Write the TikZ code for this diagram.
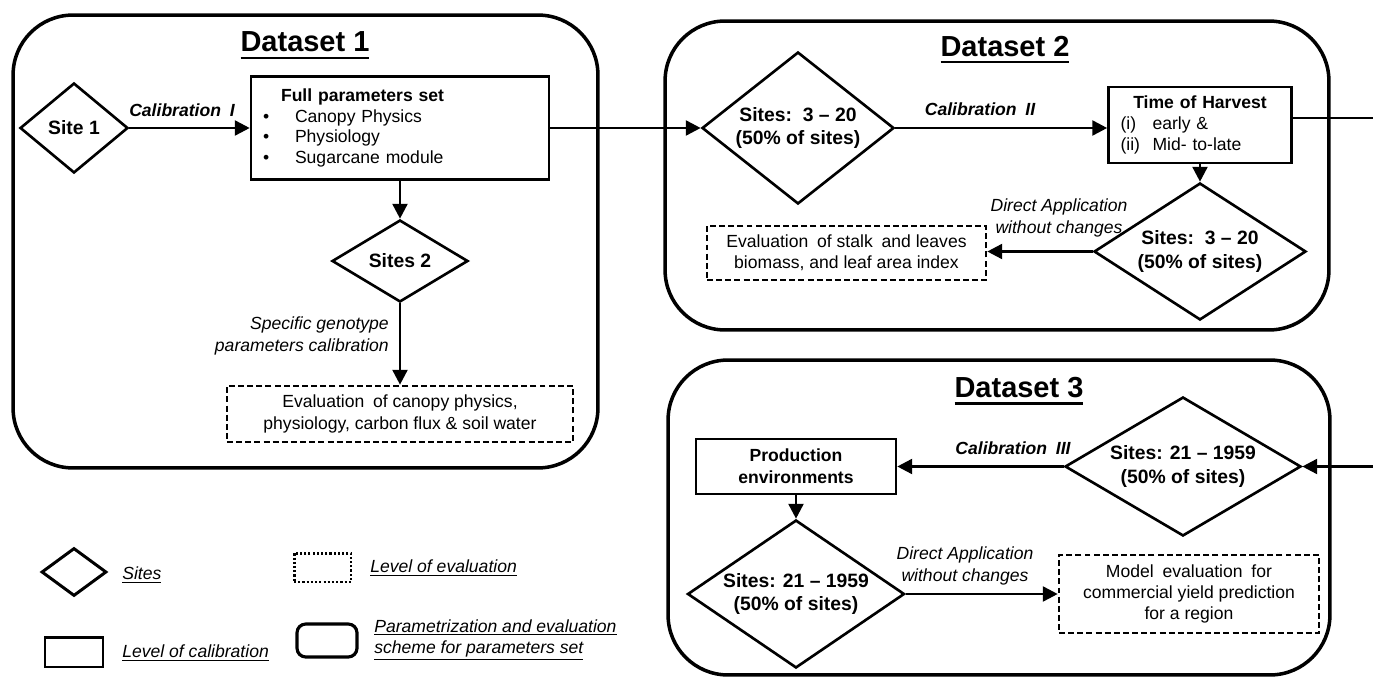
\documentclass[tikz,border=0pt]{standalone}
\usepackage{fontspec}
\setmainfont{Liberation Sans}
\usetikzlibrary{shapes.geometric,arrows.meta}

\newcommand{\dsul}[1]{\setbox0\hbox{#1}\rlap{\rule[-4pt]{\wd0}{1.3pt}}\box0}

\begin{document}
\begin{tikzpicture}[x=0.02cm, y=-0.02cm,
  dsbox/.style={draw, line width=2pt, rounded corners=1.2cm, inner sep=0pt},
  dstitle/.style={font=\fontsize{16.5}{20}\selectfont\bfseries},
  sitesd/.style={draw, diamond, line width=1.5pt, inner sep=0pt, align=center, font=\fontsize{11}{13.6}\selectfont\bfseries},
  calbox/.style={draw, line width=1.5pt, inner sep=0pt},
  evalbox/.style={draw, dash pattern=on 3.4pt off 1.8pt, line width=1.5pt, inner sep=0pt, align=center, font=\fontsize{10}{12.2}\selectfont},
  arr/.style={-{Triangle[length=8.5pt,width=8.5pt]}, line width=1.5pt},
  callbl/.style={font=\fontsize{10}{12}\selectfont\bfseries\itshape},
  applbl/.style={font=\fontsize{10}{12.2}\selectfont\itshape, align=center},
  legtxt/.style={font=\fontsize{10}{12.2}\selectfont\itshape, anchor=west, align=left, inner sep=0pt}]
	\useasboundingbox (0,0) rectangle (1373,679);
	
	% dataset frames
	\node[dsbox, minimum width=11.7cm, minimum height=9.06cm] (ds1) at (305.5,241.5) {};
	\node[dsbox, minimum width=13.28cm, minimum height=6.18cm] (ds2) at (997,175.5) {};
	\node[dsbox, minimum width=13.24cm, minimum height=6.3cm] (ds3) at (999,517.5) {};
	\node[dstitle] (t1) at (305,45.5) {\dsul{Dataset 1}};
	\node[dstitle] (t2) at (1005,49.5) {\dsul{Dataset 2}};
	\node[dstitle] (t3) at (1019,391) {\dsul{Dataset 3}};
	
	% dataset 1
	\node[sitesd, minimum width=2.16cm, minimum height=1.8cm] (site1) at (74,128) {Site 1};
	\node[calbox, minimum width=5.96cm, minimum height=2.06cm, text width=5.48cm, align=left, font=\fontsize{10}{11.9}\selectfont] (fullset) at (400,128) {\hspace*{0.36cm}\textbf{Full parameters set}\\
		\makebox[0.64cm][l]{\textbullet}Canopy Physics\\
		\makebox[0.64cm][l]{\textbullet}Physiology\\
		\makebox[0.64cm][l]{\textbullet}Sugarcane module};
	\node[sitesd, minimum width=2.72cm, minimum height=1.64cm, shape aspect=1.6] (sites2) at (400,261) {Sites 2};
	\node[evalbox, minimum width=6.92cm, minimum height=1.12cm] (eval1) at (400,414) {Evaluation\enspace of canopy physics,\\physiology, carbon flux \& soil water};
	\node[callbl] (cal1) at (182,110) {Calibration\enspace I};
	\node[applbl, align=right, anchor=east] (spec) at (395,336) {Specific genotype\\parameters calibration};
	
	\draw[arr] (site1.east) -- (fullset.west);
	\draw[arr] (fullset.south) -- (sites2.north);
	\draw[arr] (sites2.south) -- (eval1.north);
	
	% dataset 2
	\node[sitesd, minimum width=3.84cm, minimum height=3.04cm, shape aspect=1.26] (setsA) at (798,128) {Sites:\ \ 3 – 20\\(50\% of sites)};
	\node[calbox, minimum width=3.66cm, minimum height=1.52cm, text width=3.18cm, align=left, font=\fontsize{10}{12.2}\selectfont] (harvest) at (1200,125) {\makebox[3.18cm]{\textbf{Time of Harvest}}\\
		\makebox[0.64cm][l]{(i)}early \&\\
		\makebox[0.64cm][l]{(ii)}Mid- to-late};
	\node[sitesd, minimum width=4.24cm, minimum height=2.74cm, shape aspect=1.55] (setsB) at (1200,251.5) {Sites:\ \ 3 – 20\\(50\% of sites)};
	\node[evalbox, minimum width=5.58cm, minimum height=1.08cm] (eval2) at (846.5,253) {Evaluation\enspace of stalk\enspace and leaves\\biomass, and leaf area index};
	\node[callbl] (cal2) at (980,109) {Calibration\enspace II};
	\node[applbl] (da1) at (1059,218) {Direct Application\\without changes};
	\coordinate (outR) at (1373,0);
	
	\draw[arr] (fullset.east) -- (setsA.west);
	\draw[arr] (setsA.east) -- (setsA.east -| harvest.west);
	\draw[arr] (harvest.south) -- (setsB.north);
	\draw[arr] (setsB.west) -- (setsB.west -| eval2.east);
	\draw[line width=1.5pt] ([yshift=0.14cm]harvest.east) -- ([yshift=0.14cm]harvest.east -| outR);
	
	% dataset 3
	\node[sitesd, minimum width=4.72cm, minimum height=2.78cm, shape aspect=1.7] (setsR) at (1183,466.5) {Sites: 21 – 1959\\(50\% of sites)};
	\node[calbox, minimum width=4cm, minimum height=1.1cm, align=center, font=\fontsize{10}{12.5}\selectfont\bfseries] (prod) at (796,466.5) {Production\\environments};
	\node[sitesd, minimum width=4.34cm, minimum height=2.96cm, shape aspect=1.47] (setsL) at (796,594) {Sites: 21 – 1959\\(50\% of sites)};
	\node[evalbox, minimum width=5.2cm, minimum height=1.56cm] (modeleval) at (1189,594) {Model\enspace evaluation\enspace for\\commercial yield prediction\\for a region};
	\node[callbl] (cal3) at (1013,448) {Calibration\enspace III};
	\node[applbl] (da2) at (965,566) {Direct Application\\without changes};
	\coordinate (inBot) at (1373,466.5);
	
	\draw[arr] (inBot) -- (setsR.east);
	\draw[arr] (setsR.west) -- (prod.east);
	\draw[arr] (prod.south) -- (setsL.north);
	\draw[arr] (setsL.east) -- (modeleval.west);
	
	% legend
	\node[draw, diamond, line width=1.7pt, inner sep=0pt, minimum width=1.3cm, minimum height=0.96cm] (legsite) at (74,572) {};
	\node[legtxt] (legsitet) at (122,575) {\underline{Sites}};
	\node[draw, dash pattern=on 1.2pt off 1.2pt, line width=1.7pt, inner sep=0pt, minimum width=1.14cm, minimum height=0.58cm] (legeval) at (322.5,567.5) {};
	\node[legtxt] (legevalt) at (370,568) {\underline{Level of evaluation}};
	\node[calbox, line width=1.7pt, minimum width=1.16cm, minimum height=0.6cm] (legcal) at (74,652) {};
	\node[legtxt] (legcalt) at (122,653) {\underline{Level of calibration}};
	\node[draw, line width=1.8pt, rounded corners=5pt, inner sep=0pt, minimum width=1.2cm, minimum height=0.66cm] (legds) at (327,640.5) {};
	\node[legtxt] (legdst) at (374,640) {\underline{Parametrization and evaluation}\\\underline{scheme for parameters set}};
\end{tikzpicture}
\end{document}
